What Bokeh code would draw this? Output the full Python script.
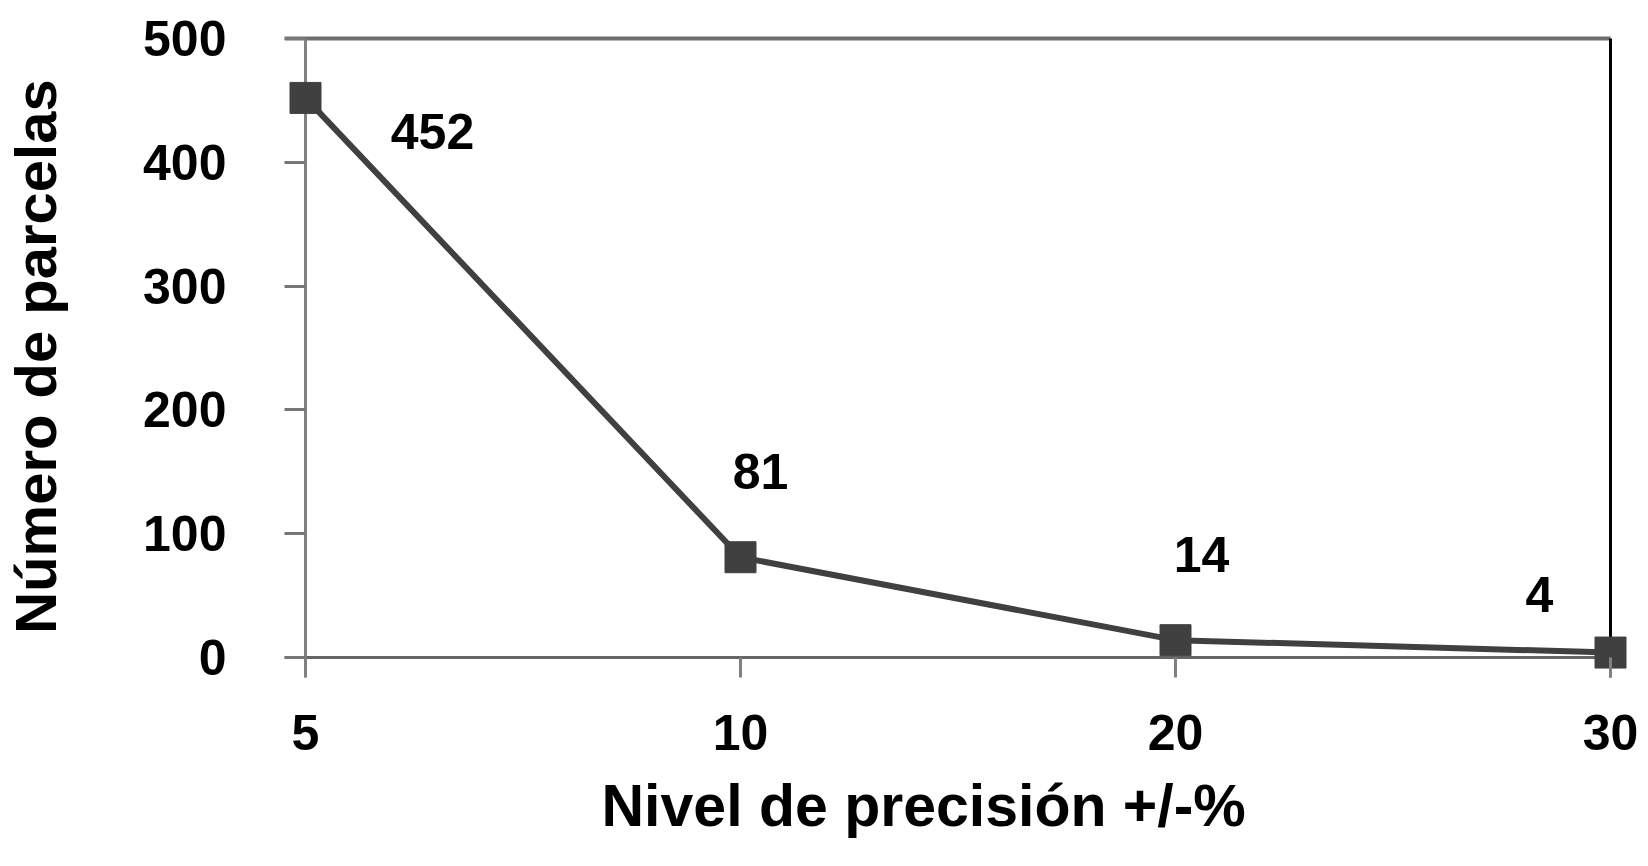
from bokeh.plotting import figure
from bokeh.models import ColumnDataSource, FixedTicker, Range1d, Title
from bokeh.core.properties import value
from bokeh.embed import file_html
from bokeh.resources import INLINE

# ---- data ----
precision_labels = ["5", "10", "20", "30"]
num_parcelas = [452, 81, 14, 4]
y_ticks = [0, 100, 200, 300, 400, 500]

# ---- label placement (pixels, style) ----
label_dx = [127, 20, 26, -71]
label_dy = [34, -86, -86, -58]

FONT = "Liberation Sans"
x_idx = list(range(len(precision_labels)))
source = ColumnDataSource(dict(
    x=x_idx,
    y=num_parcelas,
    txt=[str(v) for v in num_parcelas],
    dx=label_dx,
    dy=label_dy,
))

# ranges chosen so that the frame extends a little beyond the data box
px_per_x = 1305 / 3.0
px_per_y = 619 / 500.0
X_LO = -21 / px_per_x
X_HI = 3 + 30 / px_per_x
Y_LO = -20 / px_per_y
Y_HI = 500 + 3 / px_per_y

p = figure(width=1648, height=866, output_backend="svg", toolbar_location=None,
           x_range=Range1d(X_LO, X_HI), y_range=Range1d(Y_LO, Y_HI),
           min_border_left=284, min_border_right=8, min_border_top=35,
           min_border_bottom=189)
p.outline_line_color = None
p.grid.visible = False
p.background_fill_color = "white"
p.border_fill_color = "white"

# frame lines of the chart box
n = len(precision_labels) - 1
p.segment(x0=[X_LO], y0=[500], x1=[n], y1=[500], line_color="#6e6e6e", line_width=4)
p.segment(x0=[X_LO], y0=[0], x1=[n], y1=[0], line_color="#666666", line_width=3)
p.segment(x0=[0], y0=[Y_LO], x1=[0], y1=[500], line_color="#808080", line_width=3)
p.segment(x0=[n], y0=[Y_LO], x1=[n], y1=[500], line_color="#000000", line_width=3)

# data
p.line("x", "y", source=source, line_color="#404040", line_width=6)
p.scatter("x", "y", source=source, marker="square", size=31,
          fill_color="#404040", line_color="#404040")
p.text("x", "y", text="txt", source=source, x_offset="dx", y_offset="dy",
       text_align="center", text_baseline="middle",
       text_font=value(FONT), text_font_style="bold", text_font_size="50px",
       text_color="black")

# axes
xa = p.xaxis[0]
xa.ticker = FixedTicker(ticks=x_idx)
xa.major_label_overrides = {i: lab for i, lab in zip(x_idx, precision_labels)}
xa.axis_line_color = None
xa.major_tick_in = 20
xa.major_tick_out = 0
xa.major_tick_line_color = "#808080"
xa.major_tick_line_width = 3
xa.minor_tick_line_color = None
xa.major_label_standoff = 37
xa.major_label_text_font = FONT
xa.major_label_text_font_style = "bold"
xa.major_label_text_font_size = "50px"
xa.major_label_text_color = "black"

ya = p.yaxis[0]
ya.ticker = FixedTicker(ticks=y_ticks)
ya.axis_line_color = None
ya.major_tick_in = 21
ya.major_tick_out = 0
ya.major_tick_line_color = "#777777"
ya.major_tick_line_width = 3
ya.minor_tick_line_color = None
ya.major_label_standoff = 58
ya.major_label_text_font = FONT
ya.major_label_text_font_style = "bold"
ya.major_label_text_font_size = "50px"
ya.major_label_text_color = "black"
ya.axis_label = "Número de parcelas"
ya.axis_label_standoff = 72
ya.axis_label_text_font = FONT
ya.axis_label_text_font_style = "bold"
ya.axis_label_text_font_size = "58px"
ya.axis_label_text_color = "black"

xt = Title(text="Nivel de precisión +/-%", align="left", offset=317, standoff=37,
           text_font=FONT, text_font_style="bold", text_font_size="59px",
           text_color="black")
p.add_layout(xt, "below")

open("out.html", "w").write(file_html(p, INLINE))
